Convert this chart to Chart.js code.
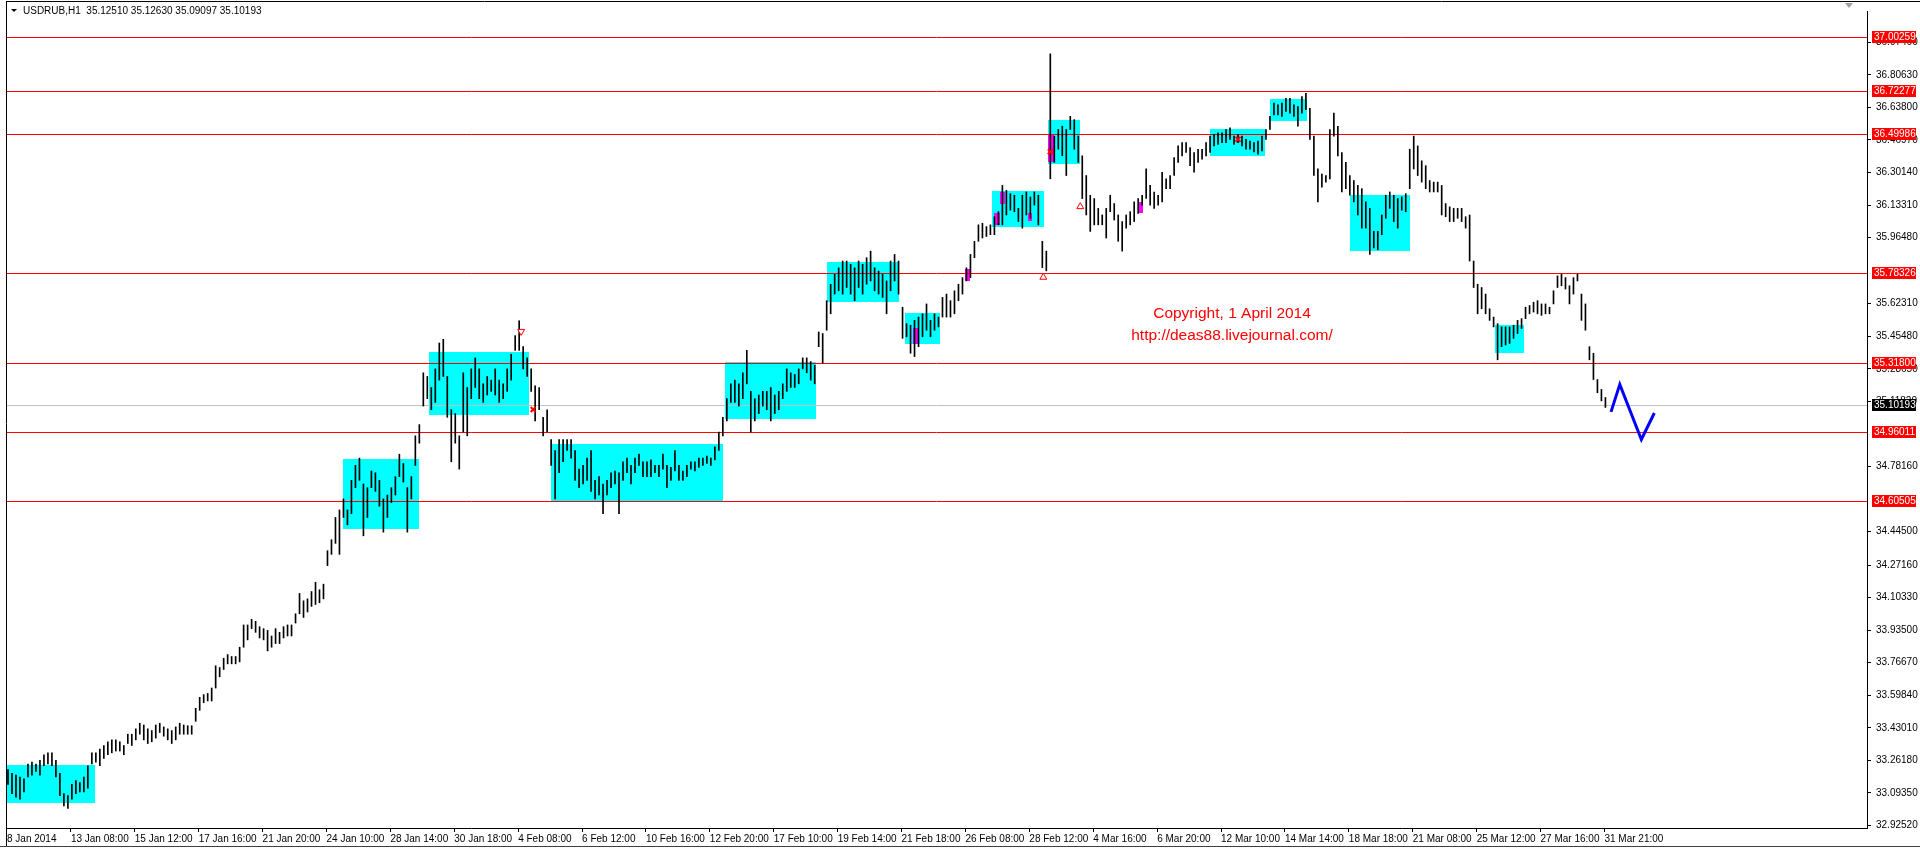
<!DOCTYPE html>
<html>
<head>
<meta charset="utf-8">
<title>USDRUB,H1</title>
<script src="https://cdn.jsdelivr.net/npm/chart.js@4.4.1/dist/chart.umd.min.js"></script>
<style>
  html, body { margin: 0; padding: 0; background: #fff; }
  #wrap { width: 1920px; height: 849px; position: relative; }
</style>
</head>
<body>
<div id="wrap"><canvas id="chartUsdRub"></canvas></div>
<script>
// one bar = two H1 bars (high / low)
const barHigh = [
  33.214, 33.195, 33.186, 33.176, 33.166, 33.243, 33.253, 33.243, 33.262, 33.291,
  33.301, 33.301, 33.262, 33.195, 33.090, 33.080, 33.138, 33.157, 33.147, 33.176,
  33.234, 33.301, 33.301, 33.320, 33.339, 33.358, 33.368, 33.368, 33.358, 33.339,
  33.397, 33.397, 33.425, 33.454, 33.445, 33.425, 33.416, 33.445, 33.454, 33.435,
  33.425, 33.416, 33.435, 33.454, 33.445, 33.441, 33.441, 33.531, 33.588, 33.602,
  33.608, 33.636, 33.751, 33.742, 33.790, 33.809, 33.799, 33.799, 33.847, 33.962,
  33.962, 33.991, 33.981, 33.953, 33.943, 33.934, 33.905, 33.943, 33.924, 33.953,
  33.962, 33.962, 34.020, 34.125, 34.087, 34.097, 34.135, 34.183, 34.144, 34.173,
  34.346, 34.403, 34.518, 34.557, 34.614, 34.557, 34.710, 34.787, 34.825, 34.691,
  34.672, 34.758, 34.749, 34.710, 34.614, 34.634, 34.672, 34.729, 34.845, 34.797,
  34.672, 34.729, 34.940, 34.998, 35.266, 35.247, 35.190, 35.286, 35.420, 35.439,
  35.247, 35.075, 35.055, 34.940, 35.266, 35.190, 35.286, 35.343, 35.286, 35.209,
  35.247, 35.228, 35.286, 35.228, 35.209, 35.286, 35.362, 35.458, 35.535, 35.401,
  35.343, 35.286, 35.199, 35.190, 35.036, 35.075, 34.921, 34.864, 34.921, 34.921,
  34.921, 34.921, 34.864, 34.768, 34.787, 34.825, 34.864, 34.710, 34.729, 34.691,
  34.710, 34.749, 34.758, 34.749, 34.806, 34.825, 34.787, 34.825, 34.845, 34.806,
  34.806, 34.816, 34.787, 34.787, 34.845, 34.787, 34.777, 34.864, 34.787, 34.758,
  34.787, 34.806, 34.806, 34.825, 34.825, 34.835, 34.825, 34.883, 34.960, 35.036,
  35.132, 35.209, 35.228, 35.209, 35.266, 35.382, 35.170, 35.132, 35.151, 35.170,
  35.170, 35.190, 35.151, 35.170, 35.209, 35.286, 35.266, 35.257, 35.286, 35.343,
  35.343, 35.324, 35.305, 35.477, 35.469, 35.639, 35.724, 35.775, 35.809, 35.844,
  35.844, 35.827, 35.809, 35.844, 35.827, 35.861, 35.895, 35.809, 35.792, 35.775,
  35.741, 35.844, 35.878, 35.844, 35.605, 35.520, 35.512, 35.537, 35.554, 35.571,
  35.622, 35.537, 35.571, 35.554, 35.656, 35.673, 35.639, 35.690, 35.724, 35.758,
  35.809, 35.878, 35.946, 36.031, 36.039, 36.022, 36.031, 36.073, 36.099, 36.235,
  36.209, 36.192, 36.184, 36.116, 36.184, 36.201, 36.175, 36.201, 36.184, 35.946,
  35.895, 36.915, 36.490, 36.524, 36.541, 36.524, 36.592, 36.575, 36.490, 36.388,
  36.286, 36.184, 36.167, 36.116, 36.082, 36.116, 36.184, 36.141, 36.082, 36.048,
  36.082, 36.099, 36.150, 36.167, 36.184, 36.320, 36.235, 36.201, 36.184, 36.303,
  36.269, 36.286, 36.379, 36.439, 36.456, 36.456, 36.430, 36.405, 36.422, 36.422,
  36.456, 36.490, 36.498, 36.507, 36.507, 36.524, 36.532, 36.490, 36.498, 36.490,
  36.473, 36.464, 36.456, 36.464, 36.490, 36.524, 36.592, 36.660, 36.651, 36.660,
  36.685, 36.685, 36.651, 36.643, 36.694, 36.711, 36.634, 36.490, 36.320, 36.294,
  36.286, 36.524, 36.609, 36.541, 36.405, 36.354, 36.286, 36.260, 36.235, 36.218,
  36.150, 36.116, 35.997, 35.997, 36.082, 36.184, 36.201, 36.184, 36.167, 36.175,
  36.192, 36.422, 36.490, 36.439, 36.362, 36.337, 36.260, 36.252, 36.252, 36.235,
  36.141, 36.124, 36.116, 36.116, 36.116, 36.073, 36.082, 35.844, 35.724, 35.707,
  35.673, 35.597, 35.554, 35.520, 35.503, 35.503, 35.503, 35.512, 35.537, 35.546,
  35.605, 35.614, 35.631, 35.639, 35.622, 35.622, 35.605, 35.690, 35.767, 35.775,
  35.758, 35.716, 35.758, 35.775, 35.673, 35.622, 35.401, 35.367, 35.231, 35.180,
  35.138
];
const barLow = [
  33.138, 33.090, 33.071, 33.061, 33.099, 33.176, 33.186, 33.205, 33.186, 33.234,
  33.243, 33.234, 33.176, 33.080, 33.027, 33.013, 33.061, 33.090, 33.099, 33.099,
  33.118, 33.243, 33.253, 33.234, 33.272, 33.291, 33.301, 33.310, 33.310, 33.291,
  33.349, 33.339, 33.368, 33.397, 33.368, 33.349, 33.358, 33.377, 33.406, 33.387,
  33.368, 33.349, 33.368, 33.397, 33.397, 33.397, 33.397, 33.464, 33.521, 33.560,
  33.569, 33.569, 33.636, 33.694, 33.732, 33.761, 33.761, 33.761, 33.771, 33.847,
  33.885, 33.943, 33.924, 33.895, 33.885, 33.828, 33.847, 33.866, 33.866, 33.895,
  33.905, 33.905, 33.972, 34.020, 34.001, 34.029, 34.058, 34.068, 34.077, 34.097,
  34.269, 34.327, 34.384, 34.327, 34.518, 34.480, 34.538, 34.672, 34.710, 34.423,
  34.518, 34.672, 34.653, 34.576, 34.442, 34.518, 34.595, 34.634, 34.729, 34.701,
  34.442, 34.614, 34.787, 34.902, 35.094, 35.132, 35.075, 35.113, 35.228, 35.247,
  35.036, 34.806, 34.902, 34.768, 34.960, 34.940, 35.132, 35.190, 35.132, 35.113,
  35.151, 35.170, 35.151, 35.113, 35.132, 35.170, 35.228, 35.382, 35.382, 35.286,
  35.247, 35.170, 35.017, 35.075, 34.940, 34.960, 34.787, 34.614, 34.749, 34.806,
  34.864, 34.825, 34.710, 34.672, 34.691, 34.710, 34.653, 34.614, 34.634, 34.538,
  34.634, 34.672, 34.691, 34.538, 34.710, 34.749, 34.691, 34.749, 34.787, 34.729,
  34.729, 34.729, 34.749, 34.729, 34.768, 34.672, 34.710, 34.758, 34.710, 34.710,
  34.729, 34.768, 34.758, 34.777, 34.787, 34.797, 34.787, 34.816, 34.864, 34.940,
  35.017, 35.113, 35.113, 35.094, 35.132, 35.209, 34.960, 35.017, 35.055, 35.094,
  35.075, 35.017, 35.055, 35.075, 35.132, 35.170, 35.190, 35.190, 35.209, 35.286,
  35.266, 35.228, 35.209, 35.401, 35.316, 35.486, 35.571, 35.673, 35.690, 35.673,
  35.707, 35.673, 35.639, 35.707, 35.673, 35.724, 35.741, 35.690, 35.673, 35.656,
  35.571, 35.690, 35.741, 35.673, 35.444, 35.452, 35.367, 35.350, 35.401, 35.452,
  35.486, 35.452, 35.486, 35.503, 35.554, 35.554, 35.554, 35.571, 35.639, 35.673,
  35.741, 35.758, 35.861, 35.946, 35.963, 35.971, 35.980, 35.980, 36.031, 36.031,
  36.082, 36.107, 36.099, 36.048, 36.014, 36.082, 36.065, 36.133, 36.031, 35.810,
  35.793, 36.269, 36.354, 36.422, 36.388, 36.286, 36.524, 36.422, 36.354, 36.167,
  36.082, 35.997, 36.031, 36.031, 36.031, 35.963, 36.099, 36.056, 35.946, 35.895,
  36.014, 36.031, 36.048, 36.090, 36.133, 36.167, 36.133, 36.116, 36.133, 36.150,
  36.218, 36.218, 36.286, 36.354, 36.388, 36.405, 36.337, 36.303, 36.354, 36.371,
  36.388, 36.405, 36.439, 36.447, 36.456, 36.456, 36.473, 36.447, 36.456, 36.439,
  36.422, 36.422, 36.408, 36.396, 36.413, 36.473, 36.524, 36.600, 36.600, 36.592,
  36.617, 36.609, 36.592, 36.541, 36.609, 36.626, 36.473, 36.286, 36.150, 36.226,
  36.252, 36.269, 36.490, 36.388, 36.201, 36.218, 36.184, 36.150, 36.082, 36.014,
  36.014, 35.878, 35.912, 35.903, 35.980, 36.065, 36.116, 36.048, 36.014, 36.107,
  36.099, 36.218, 36.320, 36.286, 36.252, 36.218, 36.201, 36.201, 36.201, 36.082,
  36.073, 36.048, 36.048, 36.065, 36.048, 36.014, 35.844, 35.707, 35.571, 35.597,
  35.571, 35.537, 35.503, 35.333, 35.401, 35.410, 35.418, 35.444, 35.469, 35.495,
  35.546, 35.571, 35.580, 35.571, 35.563, 35.571, 35.571, 35.622, 35.707, 35.716,
  35.699, 35.622, 35.673, 35.741, 35.537, 35.486, 35.333, 35.231, 35.163, 35.121,
  35.087
];

const xLabels = ["8 Jan 2014", "13 Jan 08:00", "15 Jan 12:00", "17 Jan 16:00", "21 Jan 20:00",
  "24 Jan 10:00", "28 Jan 14:00", "30 Jan 18:00", "4 Feb 08:00", "6 Feb 12:00", "10 Feb 16:00",
  "12 Feb 20:00", "17 Feb 10:00", "19 Feb 14:00", "21 Feb 18:00", "26 Feb 08:00", "28 Feb 12:00",
  "4 Mar 16:00", "6 Mar 20:00", "12 Mar 10:00", "14 Mar 14:00", "18 Mar 18:00", "21 Mar 08:00",
  "25 Mar 12:00", "27 Mar 16:00", "31 Mar 21:00"];
// a date label every 32 H1 bars = 16 plotted bars
const xTickPos = xLabels.map((l, k) => k * 16 - 0.25);

const yTickValues = [32.9252, 33.0935, 33.2618, 33.4301, 33.5984, 33.7667, 33.935, 34.1033,
  34.2716, 34.445, 34.7816, 35.1182, 35.2865, 35.4548, 35.6231, 35.9648, 36.1331, 36.3014,
  36.4697, 36.638, 36.8063, 36.9746];

// horizontal levels (red) and last bid
const levelValues = [37.00259, 36.72277, 36.49986, 35.78326, 35.31800, 34.96011, 34.60505];
const lastBid = 35.10193;

// rectangles: [bar from, bar to, low, high]
const cyanBoxes = [
  [-0.25, 21.75, 33.042, 33.237], [84, 103, 34.460, 34.822], [105.5, 130.5, 35.046, 35.372],
  [136, 179, 34.601, 34.897], [179.5, 202.25, 35.025, 35.320], [205, 223, 35.634, 35.838],
  [224.5, 233.5, 35.414, 35.576], [246.5, 259.5, 36.018, 36.204], [260.5, 268.5, 36.346, 36.572],
  [301, 314.75, 36.388, 36.524], [316, 325.25, 36.568, 36.683], [336, 351, 35.898, 36.184],
  [372.4, 379.5, 35.367, 35.515]
];
const magentaBoxes = [
  [226.5, 228, 35.413, 35.500], [239.7, 240.9, 35.743, 35.802], [247, 248.4, 36.030, 36.090],
  [248.4, 249.75, 36.140, 36.200], [255.4, 256.4, 36.050, 36.090], [260.5, 262, 36.354, 36.500],
  [283, 284.3, 36.090, 36.150]
];

// signal marks
const crossX = [131.5, 261, 308];
const crossY = [35.076, 36.409, 36.473];
const upArrowX = [259.25, 268.5];
const upArrowY = [35.76, 36.125];
const downArrowX = [128.5];
const downArrowY = [35.48];

// forecast zigzag
const zigX = [401.4, 403.6, 409, 412.25];
const zigY = [35.064, 35.206, 34.921, 35.058];

const titleText = "USDRUB,H1  35.12510 35.12630 35.09097 35.10193";
const noteLines = ["Copyright, 1 April 2014", "http://deas88.livejournal.com/"];
const noteX = 306.5;
const noteY = [35.572, 35.458];

const FONT = "'Liberation Sans', Arial, sans-serif";

const mtOverlay = {
    id: 'mtOverlay',
    beforeDatasetsDraw(chart) {
        const { ctx, chartArea: a, scales: { x, y } } = chart;
        ctx.save();
        ctx.beginPath();
        ctx.rect(a.left, a.top, a.right - a.left, a.bottom - a.top);
        ctx.clip();
        const fillBox = (b, color) => {
            const x0 = Math.round(x.getPixelForValue(b[0]));
            const x1 = Math.round(x.getPixelForValue(b[1]));
            const y0 = Math.round(y.getPixelForValue(b[3]));
            const y1 = Math.round(y.getPixelForValue(b[2]));
            ctx.fillStyle = color;
            ctx.fillRect(x0, y0, x1 - x0, y1 - y0);
        };
        cyanBoxes.forEach(b => fillBox(b, '#00ffff'));
        magentaBoxes.forEach(b => fillBox(b, '#ff00ff'));

        // levels
        ctx.lineWidth = 1;
        const hline = (v, color) => {
            const py = Math.round(y.getPixelForValue(v)) + 0.5;
            ctx.strokeStyle = color;
            ctx.beginPath();
            ctx.moveTo(a.left, py);
            ctx.lineTo(a.right, py);
            ctx.stroke();
        };
        hline(lastBid, '#c0c0c0');
        levelValues.forEach(v => hline(v, '#ff0000'));
        ctx.restore();
    },
    afterDatasetsDraw(chart) {
        const { ctx, scales: { x, y } } = chart;
        ctx.save();
        ctx.fillStyle = '#ff0000';
        ctx.font = '15.5px ' + FONT;
        ctx.textAlign = 'center';
        ctx.textBaseline = 'middle';
        noteLines.forEach((t, i) => {
            ctx.fillText(t, x.getPixelForValue(noteX), y.getPixelForValue(noteY[i]));
        });
        ctx.restore();
    },
    afterDraw(chart) {
        const { ctx, chartArea: a, scales: { y } } = chart;
        ctx.save();
        // price boxes on the axis
        ctx.font = '10px ' + FONT;
        ctx.textBaseline = 'middle';
        ctx.textAlign = 'left';
        const tag = (v, bg) => {
            const py = Math.round(y.getPixelForValue(v));
            ctx.fillStyle = bg;
            ctx.fillRect(a.right + 5, py - 6, 44, 12);
            ctx.fillStyle = '#ffffff';
            ctx.fillText(v.toFixed(5), a.right + 7, py);
        };
        levelValues.forEach(v => tag(v, '#ff0000'));
        tag(lastBid, '#000000');

        // window frame
        ctx.strokeStyle = '#000';
        ctx.lineWidth = 1;
        ctx.beginPath();
        ctx.moveTo(a.left + 0.5, 1);
        ctx.lineTo(a.left + 0.5, 846);
        ctx.moveTo(a.left, 1.5);
        ctx.lineTo(1920, 1.5);
        ctx.stroke();
        ctx.strokeStyle = '#404040';
        ctx.beginPath();
        ctx.moveTo(0, 846.5);
        ctx.lineTo(1920, 846.5);
        ctx.stroke();

        // chart-shift marker
        ctx.fillStyle = '#a0a0a0';
        ctx.beginPath();
        ctx.moveTo(a.right - 22, 3);
        ctx.lineTo(a.right - 14, 3);
        ctx.lineTo(a.right - 18, 8);
        ctx.closePath();
        ctx.fill();

        // title
        ctx.fillStyle = '#000';
        ctx.beginPath();
        ctx.moveTo(a.left + 5, 9);
        ctx.lineTo(a.left + 11, 9);
        ctx.lineTo(a.left + 8, 12);
        ctx.closePath();
        ctx.fill();
        ctx.font = '10px ' + FONT;
        ctx.fillText(titleText, a.left + 17, 11);
        ctx.restore();
    }
};

const barData = barHigh.map((h, j) => ({ x: j, y: [barLow[j], h] }));

new Chart(document.getElementById('chartUsdRub'), {
    type: 'bar',
    data: {
        datasets: [
            {
                type: 'line',
                data: zigX.map((v, i) => ({ x: v, y: zigY[i] })),
                borderColor: '#0000ff',
                borderWidth: 3,
                pointRadius: 0,
                tension: 0,
                order: 1
            },
            {
                type: 'scatter',
                data: crossX.map((v, i) => ({ x: v, y: crossY[i] })),
                pointStyle: 'crossRot',
                pointRadius: 3.5,
                borderColor: '#ff0000',
                borderWidth: 2,
                order: 2
            },
            {
                type: 'scatter',
                data: upArrowX.map((v, i) => ({ x: v, y: upArrowY[i] })),
                pointStyle: 'triangle',
                pointRadius: 4,
                borderColor: '#ff0000',
                backgroundColor: '#ffffff',
                borderWidth: 1,
                order: 2
            },
            {
                type: 'scatter',
                data: downArrowX.map((v, i) => ({ x: v, y: downArrowY[i] })),
                pointStyle: 'triangle',
                rotation: 180,
                pointRadius: 4,
                borderColor: '#ff0000',
                backgroundColor: '#ffffff',
                borderWidth: 1,
                order: 2
            },
            {
                type: 'bar',
                data: barData,
                backgroundColor: '#000000',
                borderWidth: 0,
                barThickness: 1,
                order: 3
            }
        ]
    },
    options: {
        responsive: true,
        maintainAspectRatio: false,
        animation: false,
        layout: { padding: { left: 3, top: 2, right: 0, bottom: 0 } },
        plugins: {
            legend: { display: false },
            tooltip: { enabled: false }
        },
        scales: {
            x: {
                type: 'linear',
                min: -0.5,
                max: 465.5,
                offset: false,
                border: { color: '#000' },
                grid: { offset: false, drawOnChartArea: false, color: '#000', tickLength: 4 },
                ticks: {
                    autoSkip: false,
                    maxRotation: 0,
                    align: 'start',
                    padding: 1,
                    color: '#000',
                    font: { family: FONT, size: 10 },
                    callback: (v, i) => xLabels[i]
                },
                afterBuildTicks: s => { s.ticks = xTickPos.map(v => ({ value: v })); },
                afterFit: s => { s.height = 21; }
            },
            y: {
                position: 'right',
                min: 32.9122,
                max: 37.1367,
                border: { color: '#000' },
                grid: { drawOnChartArea: false, color: '#000', tickLength: 4 },
                ticks: {
                    padding: 5,
                    color: '#000',
                    font: { family: FONT, size: 10 },
                    callback: v => v.toFixed(5)
                },
                afterBuildTicks: s => { s.ticks = yTickValues.map(v => ({ value: v })); },
                afterFit: s => { s.width = 53; }
            }
        }
    },
    plugins: [mtOverlay]
});
</script>
</body>
</html>
